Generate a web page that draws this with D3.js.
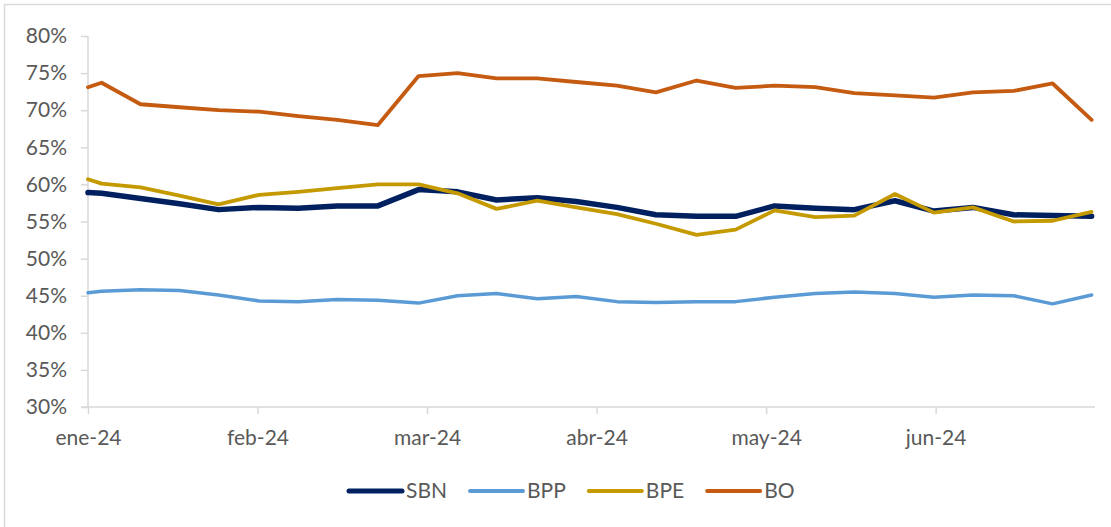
<!DOCTYPE html>
<html>
<head>
<meta charset="utf-8">
<script src="https://cdn.jsdelivr.net/npm/d3@7"></script>
<style>
  body { margin: 0; background: #fff; }
  text { font-family: Lato, "Open Sans", sans-serif; fill: #595959; }
</style>
</head>
<body>
<div id="chart"></div>
<script>
// x position of each weekly observation, in months from ene-24
var weeks = [0, 0.08, 0.31, 0.54, 0.77, 1.01, 1.24, 1.47, 1.71, 1.95, 2.18, 2.41, 2.65, 2.88,
    3.12, 3.35, 3.59, 3.82, 4.05, 4.29, 4.52, 4.76, 4.99, 5.22, 5.46, 5.69, 5.92];

var monthLabels = ["ene-24", "feb-24", "mar-24", "abr-24", "may-24", "jun-24"];
var yTicks = [30, 35, 40, 45, 50, 55, 60, 65, 70, 75, 80];

var seriesNames = ["SBN", "BPP", "BPE", "BO"];

var sbn = [58.9, 58.8, 58.1, 57.4, 56.6, 56.9, 56.8, 57.1, 57.1, 59.3, 59.0, 57.9, 58.2, 57.7,
    56.9, 55.9, 55.7, 55.7, 57.1, 56.8, 56.6, 57.8, 56.4, 56.9, 55.9, 55.8, 55.7];
var bpp = [45.4, 45.6, 45.8, 45.7, 45.1, 44.3, 44.2, 44.5, 44.4, 44.0, 45.0, 45.3, 44.6, 44.9,
    44.2, 44.1, 44.2, 44.2, 44.8, 45.3, 45.5, 45.3, 44.8, 45.1, 45.0, 43.9, 45.1];
var bpe = [60.7, 60.1, 59.6, 58.5, 57.3, 58.6, 59.0, 59.5, 60.0, 60.0, 58.8, 56.7, 57.8, 56.9,
    56.0, 54.7, 53.2, 53.9, 56.5, 55.6, 55.8, 58.7, 56.2, 56.9, 55.0, 55.1, 56.3];
var bo = [73.1, 73.7, 70.8, 70.4, 70.0, 69.8, 69.2, 68.7, 68.0, 74.6, 75.0, 74.3, 74.3, 73.8,
    73.3, 72.4, 74.0, 73.0, 73.3, 73.1, 72.3, 72.0, 71.7, 72.4, 72.6, 73.6, 68.7];

var colors = ["#002060", "#5B9BD5", "#C49A00", "#C55A11"];
var widths = [5.5, 3.5, 3.8, 3.8];

var W = 1111, H = 527;
var axisColor = "#D9D9D9";

var svg = d3.select("#chart").append("svg")
    .attr("width", W)
    .attr("height", H);

// chart frame (only top and left edges fall inside the picture)
svg.append("rect")
    .attr("x", 4.5).attr("y", 4.5)
    .attr("width", W + 20).attr("height", H + 20)
    .attr("fill", "none")
    .attr("stroke", axisColor)
    .attr("stroke-width", 1.5);

// scales
var x = d3.scaleLinear().domain([0, 5.94]).range([88, 1095]);
var y = d3.scaleLinear().domain([30, 80]).range([407, 36]);

// y axis
var yAxis = svg.append("g")
    .attr("transform", "translate(" + x(0) + ",0)")
    .call(d3.axisLeft(y).tickValues(yTicks).tickSize(7).tickPadding(14)
        .tickFormat(function (d) { return d + "%"; }));
yAxis.select(".domain").remove();
yAxis.selectAll("line").attr("stroke", axisColor).attr("stroke-width", 1.5);
yAxis.selectAll("text").attr("font-size", 21).attr("fill", "#595959");
yAxis.append("line")
    .attr("y1", y(80)).attr("y2", y(30))
    .attr("stroke", axisColor).attr("stroke-width", 1.5);

// x axis
var xAxis = svg.append("g")
    .attr("transform", "translate(0," + y(30) + ")")
    .call(d3.axisBottom(x).tickValues(d3.range(monthLabels.length)).tickSize(7).tickPadding(16)
        .tickFormat(function (d, i) { return monthLabels[i]; }));
xAxis.select(".domain").remove();
xAxis.selectAll("line").attr("stroke", axisColor).attr("stroke-width", 1.5);
xAxis.selectAll("text").attr("font-size", 21).attr("fill", "#595959");
xAxis.append("line")
    .attr("x1", x(0) - 7).attr("x2", x(5.94))
    .attr("stroke", axisColor).attr("stroke-width", 1.5);

// lines
var allSeries = [sbn, bpp, bpe, bo];
var line = d3.line()
    .x(function (d, i) { return x(weeks[i]); })
    .y(function (d) { return y(d); });

// draw BO, BPP first, then SBN, BPE on top
[3, 1, 0, 2].forEach(function (k) {
    svg.append("path")
        .datum(allSeries[k])
        .attr("d", line)
        .attr("fill", "none")
        .attr("stroke", colors[k])
        .attr("stroke-width", widths[k])
        .attr("stroke-linejoin", "round")
        .attr("stroke-linecap", "round");
});

// legend
var legend = svg.append("g").attr("transform", "translate(349,491)");
var lx = 0;
seriesNames.forEach(function (name, k) {
    legend.append("line")
        .attr("x1", lx).attr("x2", lx + 53)
        .attr("stroke", colors[k])
        .attr("stroke-width", k === 0 ? 5 : 4)
        .attr("stroke-linecap", "round");
    var t = legend.append("text")
        .attr("x", lx + 57)
        .attr("dy", "0.35em")
        .attr("font-size", 21)
        .text(name);
    lx += 57 + t.node().getComputedTextLength() + 23;
});
</script>
</body>
</html>
